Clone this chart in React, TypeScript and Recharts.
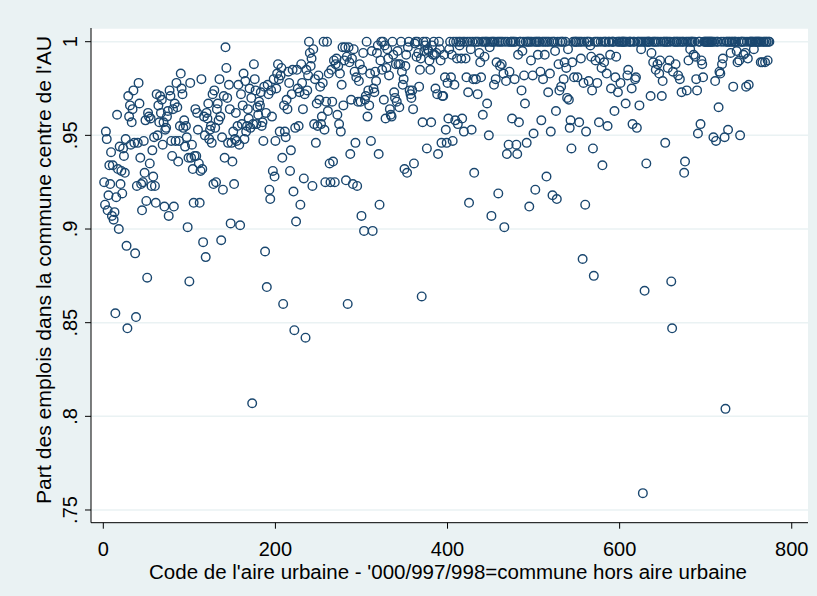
import React from 'react';
import { ScatterChart, Scatter, XAxis, YAxis, CartesianGrid } from 'recharts';

// Share of jobs in the central commune, one value per urban-area code (codes 1..N, in order)
const shares: number[] = [
  .925,.913,.952,.948,.910,.918,.934,.924,.941,.907,
  .934,.905,.909,.855,.917,.961,.932,.900,.944,.924,
  .931,.919,.943,.939,.930,.948,.891,.847,.971,.960,
  .966,.945,.957,.964,.974,.946,.887,.853,.923,.946,
  .978,.967,.938,.924,.910,.925,.947,.930,.958,.915,
  .874,.962,.960,.935,.959,.923,.942,.928,.949,.923,
  .914,.972,.950,.966,.957,.971,.962,.969,.945,.957,
  .912,.953,.954,.960,.963,.907,.974,.971,.947,.939,
  .964,.912,.967,.947,.978,.965,.936,.947,.955,.983,
  .975,.972,.954,.958,.944,.955,.949,.901,.938,.872,
  .978,.938,.945,.932,.914,.939,.964,.939,.962,.953,
  .935,.914,.931,.980,.932,.893,.960,.950,.885,.962,
  .959,.967,.948,.953,.955,.946,.972,.924,.974,.954,
  .925,.964,.967,.958,.980,.960,.894,.949,.921,.971,
  .938,.997,.986,.970,.946,.977,.964,.903,.946,.936,
  .952,.924,.948,.962,.947,.955,.977,.945,.902,.972,
  .956,.966,.983,.948,.979,.952,.955,.964,.959,.975,
  .954,.970,.807,.956,.988,.980,.974,.956,.965,.961,
  .968,.966,.973,.955,.957,.947,.976,.888,.962,.869,
  .977,.972,.921,.916,.974,.960,.931,.980,.928,.947,
  .975,.983,.988,.980,.952,.982,.986,.938,.860,.966,
  .952,.949,.969,.964,.984,.978,.931,.942,.972,.985,.920,.846,
  .954,.904,.985,.975,.955,.973,.913,.988,.978,.964,
  .927,.972,.842,.985,.974,.982,1,.994,.987,.991,
  .923,.996,.956,.980,.946,.967,.955,.982,.969,.976,
  .956,.960,.978,1,.953,.925,.968,1,.963,.983,.935,.925,
  .985,.968,.936,.990,.925,.988,.991,.961,.987,.956,
  .983,.952,.977,.997,.966,.990,.997,.926,.992,.860,
  .997,.989,.940,.969,.991,.924,.996,.984,.946,.981,
  .923,.968,.979,.988,.968,.907,.985,.994,.899,.969,
  .971,1,.960,.974,.966,.983,.947,.995,.899,.975,
  .973,.984,.979,.994,.998,.940,.913,.990,1,.985,
  1,.969,.998,.959,.986,.996,.991,.982,.964,.961,
  .960,1,.993,.973,.970,.988,.968,.995,.988,.965,
  .988,1,.984,.977,.980,.932,.987,.993,.930,.997,
  1,.974,.972,.970,.974,.964,.935,.999,1,.992,
  1,.994,.976,.985,.991,.864,.957,1,.995,.998,
  1,.943,.996,.995,.990,.985,.957,.998,.993,1,
  .993,.975,.994,.972,.940,1,.996,.990,.946,.971,
  .971,.993,.981,.953,.946,.978,.959,.996,1,.981,
  .993,.947,1,.977,.958,1,.991,.956,1,.998,
  1,.991,.959,1,.952,1,.991,.981,1,.973,
  .914,1,.996,.953,1,.980,.930,1,.980,1,
  .972,1,.994,.989,.981,1,.961,1,.992,1,
  1,.967,1,.950,.997,1,.907,1,1,.977,
  1,.980,.989,1,.919,1,.987,1,.988,1,
  .983,.901,1,.979,.940,1,.945,.984,1,1,
  .959,1,1,.980,1,.945,.940,.993,.957,1,
  1,.974,.995,1,.982,.967,1,.946,1,1,
  .912,1,.990,1,.982,.951,1,.921,1,1,
  .993,1,1,.984,.958,1,.980,1,.993,1,
  .928,1,.973,1,.983,.952,1,.918,1,1,
  .995,.963,.916,1,.988,.974,1,.976,1,1,
  .980,.989,1,.986,.970,.996,.969,.954,.958,.943,
  .989,1,.981,1,1,1,.981,1,.957,1,
  .991,1,.884,.978,1,.913,.952,1,1,.979,
  1,.998,.992,.974,.943,.875,1,.990,1,.978,
  1,.957,.991,1,.986,.934,1,.989,1,1,
  .983,.955,1,1,.993,.975,1,1,1,.963,
  .981,.992,1,.973,1,1,.978,1,1,1,
  1,1,.967,1,.982,.985,1,1,1,.975,
  .956,1,1,.980,.981,.954,1,1,.966,1,
  .996,1,.759,1,.867,1,.935,1,1,1,
  1,.971,.994,1,.989,1,1,.985,1,.988,
  1,.983,.990,1,.971,.979,1,1,.946,1,
  1,.986,1,.990,1,.872,.847,.984,1,1,
  .988,1,1,.982,1,.980,1,.973,1,1,
  .930,.936,1,.974,1,.990,1,.996,1,1,
  1,.993,1,.992,.980,.974,.951,1,1,.956,
  .990,.988,.981,1,1,1,1,1,1,1,
  1,1,1,1,.949,1,.979,.947,1,1,
  .965,.984,.983,1,.988,.991,1,.949,.804,1,
  1,.953,1,1,.994,1,1,.976,1,1,
  1,.995,.989,1,.990,.950,1,1,1,.993,
  1,.994,.976,1,.991,.977,1,1,1,1,
  1,.996,1,1,1,1,1,1,1,.989,
  1,.989,1,1,.989,1,1,.990,1,1,
];

const codes: number[] = shares.map((_, i) => i + 1);

const xTicks = [0, 200, 400, 600, 800];
const yTicks = [0.75, 0.8, 0.85, 0.9, 0.95, 1];
const yTickLabels = ['.75', '.8', '.85', '.9', '.95', '1'];

const xTitle = "Code de l'aire urbaine - '000/997/998=commune hors aire urbaine";
const yTitle = "Part des emplois dans la commune centre de l'AU";

const data = codes.map((c, i) => ({ code: c, share: shares[i] }));

const FONT = "'Liberation Sans', Arial, Helvetica, sans-serif";
const FS = 20;
const NAVY = '#1A476F';
const BG = '#EAF2F3';

const XTick = (props: any) => {
  const { x, payload } = props;
  return (
    <text x={x} y={555.5} textAnchor="middle" fontSize={FS} fontFamily={FONT} fill="#000">
      {payload.value}
    </text>
  );
};

const YTick = (props: any) => {
  const { y, payload } = props;
  const idx = yTicks.findIndex((t) => Math.abs(t - payload.value) < 1e-6);
  const lx = 77.5;
  return (
    <text x={lx} y={y} transform={`rotate(-90 ${lx} ${y})`} textAnchor="middle" fontSize={FS} fontFamily={FONT} fill="#000">
      {idx >= 0 ? yTickLabels[idx] : payload.value}
    </text>
  );
};

const Dot = (p: any) => (
  <circle cx={p.cx} cy={p.cy} r={4.3} fill="none" stroke={NAVY} strokeWidth={1.4} />
);

export default function App() {
  return (
    <div style={{ position: 'absolute', left: 0, top: 0, width: 817, height: 596, background: BG }}>
      <ScatterChart width={817} height={596} margin={{ top: 28, right: 9, bottom: 43.3, left: 61 }}>
        <CartesianGrid vertical={false} horizontal stroke={BG} strokeWidth={1.5} fill="#ffffff" />
        <XAxis
          type="number"
          dataKey="code"
          domain={[-14.3, 818.9]}
          ticks={xTicks}
          allowDataOverflow
          height={30}
          axisLine={{ stroke: '#000', strokeWidth: 1 }}
          tickLine={{ stroke: '#000', strokeWidth: 1 }}
          tickSize={6}
          tick={<XTick />}
          interval={0}
          label={{
            content: () => (
              <text x={448} y={578.5} textAnchor="middle" fontSize={FS} fontFamily={FONT} fill="#000"
                textLength={598} lengthAdjust="spacingAndGlyphs">
                {xTitle}
              </text>
            ),
          }}
        />
        <YAxis
          type="number"
          dataKey="share"
          domain={[0.74322, 1.00731]}
          ticks={yTicks}
          allowDataOverflow
          width={30}
          axisLine={{ stroke: '#000', strokeWidth: 1 }}
          tickLine={{ stroke: '#000', strokeWidth: 1 }}
          tickSize={6}
          tick={<YTick />}
          interval={0}
          label={{
            content: () => (
              <text x={51} y={270} transform="rotate(-90 51 270)" textAnchor="middle" fontSize={FS} fontFamily={FONT} fill="#000"
                textLength={468} lengthAdjust="spacingAndGlyphs">
                {yTitle}
              </text>
            ),
          }}
        />
        <Scatter data={data} shape={<Dot />} isAnimationActive={false} />
      </ScatterChart>
    </div>
  );
}
